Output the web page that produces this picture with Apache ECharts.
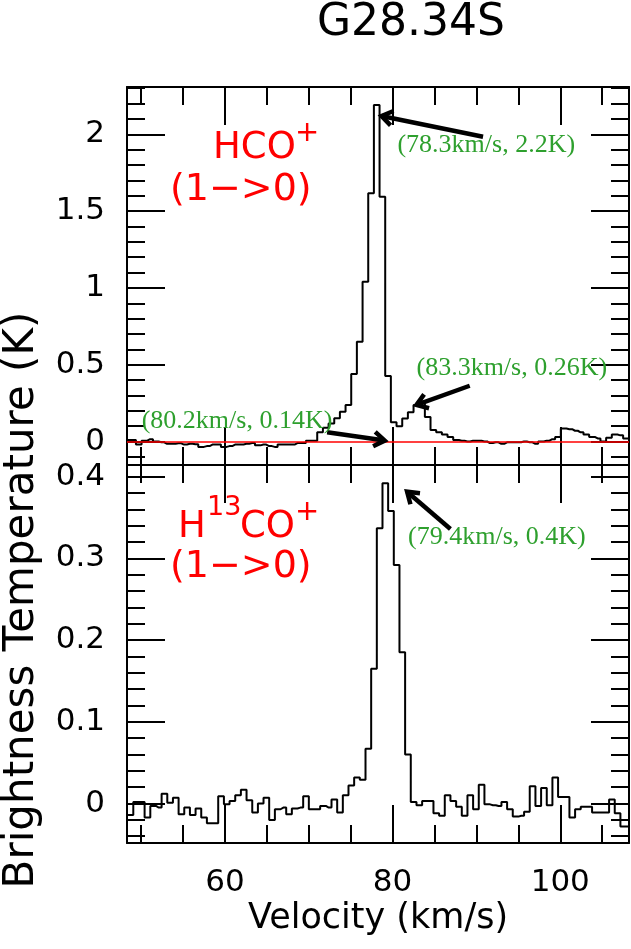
<!DOCTYPE html>
<html>
<head>
<meta charset="utf-8">
<script src="https://cdn.jsdelivr.net/npm/echarts@6/dist/echarts.min.js"></script>
<style>
html, body { margin: 0; padding: 0; background: #fff; }
#box { width: 631px; height: 949px; }
</style>
</head>
<body>
<div id="box"></div>
<script>
// HCO+ (1->0) spectrum, channel centres (km/s) and brightness temperature (K)
var hcoVel = [48.37, 49.05, 49.72, 50.40, 51.08, 51.75, 52.43, 53.10, 53.78, 54.46,
  55.13, 55.81, 56.48, 57.16, 57.84, 58.51, 59.19, 59.86, 60.54, 61.21,
  61.89, 62.56, 63.24, 63.92, 64.59, 65.27, 65.94, 66.62, 67.30, 67.97,
  68.65, 69.32, 70.00, 70.67, 71.35, 72.03, 72.70, 73.38, 74.05, 74.73,
  75.40, 76.08, 76.76, 77.43, 78.11, 78.78, 79.46, 80.13, 80.81, 81.49,
  82.16, 82.84, 83.51, 84.19, 84.86, 85.54, 86.22, 86.89, 87.57, 88.24,
  88.92, 89.59, 90.27, 90.95, 91.62, 92.30, 92.97, 93.65, 94.32, 95.00,
  95.67, 96.35, 97.03, 97.70, 98.38, 99.05, 99.73, 100.40, 101.08, 101.76,
  102.43, 103.11, 103.78, 104.46, 105.13, 105.81, 106.49, 107.16, 107.84, 108.51];
var hcoT = [0.01, 0.01, -0.02, 0.005, 0.015, 0.0, -0.005, -0.015, -0.015, -0.012,
  -0.02, -0.015, -0.018, -0.035, -0.03, -0.02, -0.02, -0.035, -0.03, -0.02,
  -0.02, -0.015, -0.01, -0.025, -0.02, -0.03, -0.035, -0.02, -0.02, -0.02,
  -0.01, -0.01, 0.005, 0.005, 0.06, 0.09, 0.118, 0.151, 0.194, 0.238,
  0.439, 0.65, 1.04, 1.616, 2.19, 1.594, 0.426, 0.125, 0.10, 0.15,
  0.19, 0.238, 0.26, 0.16, 0.075, 0.06, 0.045, 0.03, 0.01, 0.005,
  0.0, 0.005, 0.005, 0.0, -0.01, -0.005, -0.015, -0.005, -0.005, -0.005,
  0.0, -0.005, -0.015, 0.0, 0.005, 0.015, 0.03, 0.085, 0.08, 0.07,
  0.06, 0.045, 0.03, 0.02, 0.0, 0.025, 0.045, 0.04, 0.02, 0.02];

// H13CO+ (1->0) spectrum
var h13Vel = [48.06, 48.73, 49.41, 50.08, 50.76, 51.44, 52.11, 52.79, 53.46, 54.14, 54.81,
  55.49, 56.16, 56.84, 57.51, 58.19, 58.86, 59.54, 60.22, 60.89, 61.57,
  62.24, 62.92, 63.60, 64.27, 64.94, 65.62, 66.30, 66.97, 67.65, 68.32,
  69.00, 69.67, 70.35, 71.02, 71.70, 72.38, 73.05, 73.73, 74.40, 75.08,
  75.75, 76.43, 77.11, 77.78, 78.46, 79.13, 79.81, 80.48, 81.16, 81.83,
  82.51, 83.19, 83.86, 84.54, 85.21, 85.89, 86.56, 87.24, 87.92, 88.59,
  89.27, 89.94, 90.62, 91.29, 91.97, 92.65, 93.32, 94.00, 94.67, 95.35,
  96.02, 96.70, 97.38, 98.05, 98.73, 99.40, 100.08, 100.76, 101.43, 102.11,
  102.78, 103.46, 104.13, 104.81, 105.49, 106.16, 106.84, 107.51, 108.19];
var h13T = [-0.014, -0.014, 0.002, 0.002, -0.017, -0.003, -0.005, 0.012, 0.001, 0.007, -0.013,
  -0.005, -0.014, -0.006, -0.017, -0.024, -0.024, 0.009, -0.001, 0.003, 0.010,
  0.017, 0.004, -0.011, 0.0, 0.007, -0.020, -0.007, -0.005, -0.013, -0.006,
  -0.005, 0.009, -0.007, -0.007, -0.003, -0.005, 0.005, -0.011, 0.010, 0.022,
  0.032, 0.029, 0.067, 0.165, 0.337, 0.392, 0.358, 0.292, 0.185, 0.060,
  0.002, -0.002, 0.003, 0.003, -0.012, -0.015, 0.010, 0.003, -0.004, -0.015,
  0.010, -0.007, 0.023, -0.001, -0.002, -0.003, 0.002, -0.007, -0.016, -0.015,
  -0.010, 0.021, -0.003, 0.019, -0.002, 0.032, 0.008, 0.008, -0.017, -0.007,
  -0.004, -0.004, -0.011, -0.011, -0.011, 0.005, -0.012, -0.028, -0.028];

var velMajor = [60, 80, 100];
var velMinor = [50, 55, 65, 70, 75, 85, 90, 95, 105];
var topMajor = [0, 0.5, 1, 1.5, 2];
var topMinor = [-0.1, 0.1, 0.2, 0.3, 0.4, 0.6, 0.7, 0.8, 0.9, 1.1, 1.2, 1.3, 1.4,
  1.6, 1.7, 1.8, 1.9, 2.1, 2.2, 2.3];
var botMajor = [0, 0.1, 0.2, 0.3, 0.4];
var botMinor = [-0.04, -0.02, 0.02, 0.04, 0.06, 0.08, 0.12, 0.14, 0.16, 0.18,
  0.22, 0.24, 0.26, 0.28, 0.32, 0.34, 0.36, 0.38];

// annotations: [text, series, text anchor, arrow tail, arrow head]
var notes = [
  ['(78.3km/s, 2.2K)', 0, [80.58, 1.93], [90.79, 1.984], [78.68, 2.119]],
  ['(83.3km/s, 0.26K)', 0, [82.85, 0.4785], [89.20, 0.363], [82.85, 0.238]],
  ['(80.2km/s, 0.14K)', 0, [50.07, 0.1335], [72.19, 0.060], [79.07, 0.006]],
  ['(79.4km/s, 0.4K)', 1, [81.85, 0.3262], [86.90, 0.336], [81.73, 0.3816]]
];

var VMIN = 48.32, VMAX = 108.2;
var FONT = 'DejaVu Sans';

function zip(a, b) {
  var out = [];
  for (var i = 0; i < a.length; i++) out.push([a[i], b[i]]);
  return out;
}

function xAx(grid, pos, major, labels) {
  return {
    type: 'value', gridIndex: grid, position: pos, min: VMIN, max: VMAX,
    axisLine: { show: major, onZero: false, lineStyle: { color: '#000', width: 2 } },
    axisTick: { show: true, inside: true, length: major ? 38 : 18,
      customValues: major ? velMajor : velMinor,
      lineStyle: { color: '#000', width: 2 } },
    axisLabel: { show: labels, customValues: velMajor, margin: 24,
      color: '#000', fontSize: 31, fontFamily: FONT },
    splitLine: { show: false },
    name: labels ? 'Velocity (km/s)' : '',
    nameLocation: 'middle', nameGap: 58,
    nameTextStyle: { color: '#000', fontSize: 35, fontFamily: FONT }
  };
}

function yAx(grid, pos, major, labels, lo, hi, mj, mn) {
  return {
    type: 'value', gridIndex: grid, position: pos, min: lo, max: hi,
    axisLine: { show: major, onZero: false, lineStyle: { color: '#000', width: 2 } },
    axisTick: { show: true, inside: true, length: major ? 38 : 18,
      customValues: major ? mj : mn,
      lineStyle: { color: '#000', width: 2 } },
    axisLabel: { show: labels, customValues: mj, margin: 22,
      color: '#000', fontSize: 31, fontFamily: FONT },
    splitLine: { show: false }
  };
}

var TLO = -0.153, THI = 2.308, BLO = -0.0483, BHI = 0.4143;

var dom = document.getElementById('box');
var myChart = echarts.init(dom);
var option = {
  animation: false,
  backgroundColor: '#fff',
  grid: [
    { left: 127, top: 87, width: 502, height: 378 },
    { left: 127, top: 465, width: 502, height: 378 }
  ],
  xAxis: [
    xAx(0, 'bottom', true, false), xAx(0, 'bottom', false, false),
    xAx(0, 'top', true, false), xAx(0, 'top', false, false),
    xAx(1, 'bottom', true, true), xAx(1, 'bottom', false, false),
    xAx(1, 'top', true, false), xAx(1, 'top', false, false)
  ],
  yAxis: [
    yAx(0, 'left', true, true, TLO, THI, topMajor, topMinor),
    yAx(0, 'left', false, false, TLO, THI, topMajor, topMinor),
    yAx(0, 'right', true, false, TLO, THI, topMajor, topMinor),
    yAx(0, 'right', false, false, TLO, THI, topMajor, topMinor),
    yAx(1, 'left', true, true, BLO, BHI, botMajor, botMinor),
    yAx(1, 'left', false, false, BLO, BHI, botMajor, botMinor),
    yAx(1, 'right', true, false, BLO, BHI, botMajor, botMinor),
    yAx(1, 'right', false, false, BLO, BHI, botMajor, botMinor)
  ],
  series: [
    {
      name: 'HCO+', type: 'line', step: 'middle', xAxisIndex: 0, yAxisIndex: 0,
      data: zip(hcoVel, hcoT), showSymbol: false, symbol: 'none', clip: true,
      lineStyle: { color: '#000', width: 2 },
      markLine: {
        silent: true, symbol: 'none', label: { show: false },
        lineStyle: { color: '#ff0000', width: 1.5, type: 'solid' },
        data: [{ yAxis: 0 }]
      }
    },
    {
      name: 'H13CO+', type: 'line', step: 'middle', xAxisIndex: 4, yAxisIndex: 4,
      data: zip(h13Vel, h13T), showSymbol: false, symbol: 'none', clip: true,
      lineStyle: { color: '#000', width: 2 }
    }
  ]
};
myChart.setOption(option, true);

// texts and arrows
var red = '#ff0000', green = '#2ea02e';
function txt(s, x, y, size, color, align, fam) {
  return { type: 'text', x: x, y: y, z: 100,
    style: { text: s, fill: color, fontSize: size, fontFamily: fam || FONT,
      align: align || 'left', verticalAlign: 'middle' } };
}
var gfx = [
  txt('G28.34S', 411, 24, 44, '#000', 'center'),
  { type: 'text', x: 22, y: 600, rotation: Math.PI / 2, z: 100,
    style: { text: 'Brightness Temperature (K)', fill: '#000', fontSize: 42,
      fontFamily: FONT, align: 'center', verticalAlign: 'middle' } },
  txt('HCO', 213, 148, 37, red),
  txt('+', 295, 133, 29, red),
  txt('(1\u2212>0)', 170, 190, 38, red),
  txt('H', 178, 527, 37, red),
  txt('13', 207, 508, 27, red),
  txt('CO', 240, 527, 37, red),
  txt('+', 295, 512, 29, red),
  txt('(1\u2212>0)', 170, 567, 38, red)
];
notes.forEach(function (n) {
  var f = { seriesIndex: n[1] };
  var p = myChart.convertToPixel(f, n[2]);
  var t = myChart.convertToPixel(f, n[3]);
  var h = myChart.convertToPixel(f, n[4]);
  gfx.push(txt(n[0], p[0], p[1], 26, green, 'left', 'Liberation Serif'));
  gfx.push({ type: 'line', z: 90, shape: { x1: t[0], y1: t[1], x2: h[0], y2: h[1] },
    style: { stroke: '#000', lineWidth: 4.5 } });
  var dx = t[0] - h[0], dy = t[1] - h[1], L = Math.sqrt(dx * dx + dy * dy);
  dx /= L; dy /= L;
  var a = 0.6, len = 13;
  var c = Math.cos(a), s = Math.sin(a);
  var p1 = [h[0] + len * (dx * c - dy * s), h[1] + len * (dx * s + dy * c)];
  var p2 = [h[0] + len * (dx * c + dy * s), h[1] + len * (-dx * s + dy * c)];
  gfx.push({ type: 'polyline', z: 90, shape: { points: [p1, h, p2] },
    style: { stroke: '#000', lineWidth: 4.5, fill: null } });
});
myChart.setOption({ graphic: gfx });
</script>
</body>
</html>
